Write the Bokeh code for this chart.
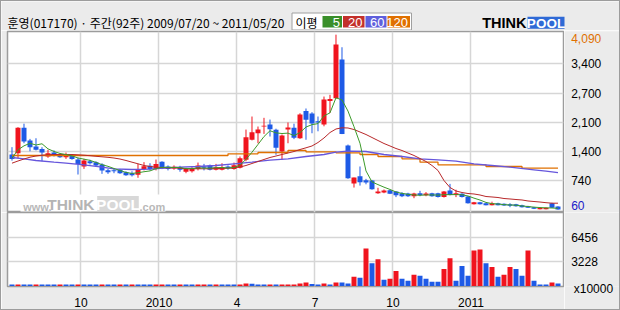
import pandas as pd
from bokeh.plotting import figure
from bokeh.models import Range1d, FixedTicker, ColumnDataSource
from bokeh.core.properties import value
from bokeh.layouts import column, row
from bokeh.embed import file_html
from bokeh.resources import INLINE

# ---------------- data ----------------
title_text = "훈영(017170) · 주간(92주) 2009/07/20 ~ 2011/05/20"
opens = [1330,1360,1945,1655,1515,1460,1285,1375,1330,1270,
         1300,1215,1055,1175,1155,1100,970,970,980,925,
         900,865,995,1070,995,1165,1055,1010,1040,935,
         945,995,1055,1080,980,980,1055,1000,1025,1210,
         1670,1820,1975,2020,1900,1400,1905,1945,1705,2330,
         2275,2095,2020,2560,2625,3518,1540,665,830,740,
         730,440,455,510,480,440,433,370,440,395,
         440,440,350,500,400,425,365,185,230,210,
         165,210,195,185,185,165,140,118,72,72,
         210,135]
highs = [1500,1960,2040,1690,1705,1500,1440,1425,1360,1375,
         1330,1255,1230,1210,1175,1130,1000,1010,1000,945,
         945,1115,1155,1130,1215,1175,1080,1080,1070,1025,
         1040,1145,1115,1100,1115,1130,1080,1145,1285,1905,
         2205,1975,2175,2135,1925,1790,2068,2040,2280,2390,
         2305,2205,2665,2705,4090,3800,1560,800,1055,770,
         745,565,525,520,490,465,450,450,495,465,
         450,450,490,655,520,440,375,240,240,220,
         245,220,205,210,195,175,150,125,110,110,
         220,140]
lows = [1190,1245,1590,1405,1425,1175,1255,1285,1255,1230,
        1210,870,1000,1100,1055,885,885,900,885,840,
        825,795,965,965,965,995,965,980,935,900,
        915,965,965,965,965,965,980,980,1010,1175,
        1655,1590,1805,1745,1325,1210,1590,1685,1690,1670,
        1820,1865,1980,2290,2613,1800,770,570,615,645,
        520,425,440,420,350,350,355,325,370,370,
        360,340,340,390,350,340,200,180,180,160,
        160,160,150,118,130,110,100,75,68,68,
        100,60]
closes = [1230,1945,1630,1500,1440,1375,1360,1330,1270,1315,
          1225,1115,1195,1130,1080,965,925,945,900,855,
          855,1000,1060,995,1115,1010,995,1050,980,995,
          1010,1080,1025,980,1040,1040,1010,1085,1245,1730,
          1845,1905,1995,1915,1485,1770,1950,1715,2250,2130,
          2045,2070,2595,2610,3863,1800,785,800,695,685,
          530,480,505,430,395,370,370,433,395,433,
          370,350,480,400,440,350,210,230,185,165,
          210,165,155,150,140,118,105,80,105,105,
          105,62]
volumes = [200,200,200,200,200,200,200,200,200,200,
           200,200,200,200,200,200,200,200,200,200,
           200,200,200,200,200,200,200,200,200,200,
           200,200,200,200,200,200,200,200,200,320,
           300,200,200,200,200,200,200,200,320,450,
           280,194,323,194,452,452,323,1226,1097,4970,
           3034,3550,839,968,2000,968,710,1485,1355,968,
           581,581,2259,3679,710,2646,1355,4712,4841,3034,
           2517,1226,1485,2517,2259,1355,4712,710,194,194,
           452,323]
vol_up = [0,1,0,0,1,0,0,0,1,0,
          0,1,0,0,0,1,0,0,1,0,
          1,0,0,0,1,1,0,0,1,0,
          0,1,1,0,1,0,0,0,1,1,
          0,0,0,1,0,1,1,1,1,1,
          0,0,1,0,1,0,0,1,0,1,
          0,1,0,1,1,0,0,1,0,0,
          0,0,1,1,0,0,0,1,1,0,
          1,0,1,1,0,0,1,0,0,0,
          1,0]
ma5_head = [1245, 1440, 1530, 1590]
ma20 = [1131,1181,1227,1269,1296,1315,1326,1331,1331,1331,
        1331,1324,1315,1303,1289,1278,1266,1250,1227,1193,
        1154,1117,1078,1055,1039,1032,1025,1025,1013,1002,
        1002,1002,1002,1002,1009,1009,1016,1025,1043,1078,
        1124,1170,1216,1262,1296,1331,1365,1400,1446,1485,
        1527,1607,1711,1837,1918,1946,1941,1906,1849,1791,
        1722,1653,1584,1527,1469,1423,1365,1308,1239,1170,
        1078,963,732,571,491,456,433,422,399,364,
        353,341,318,307,295,284,261,249,237,222,
        210,210]
ma60_idx = [0,2,4,7,9,12,15,17,20,23,26,28,31,34,37,40,43,46,49,52,
            54,56,59,62,65,68,71,74,77,80,83,87,89,91]
ma60 = [1262,1232,1193,1154,1131,1094,1039,1002,986,993,1025,1039,1055,1078,1117,1154,1200,1232,1285,1331,
        1384,1407,1400,1331,1285,1232,1209,1177,1117,1078,1039,979,947,916]
ma120_idx = [0,36,41,46,49,54,58,61,65,68,71,79,85,91]
ma120 = [1308,1347,1377,1423,1393,1370,1331,1285,1232,1154,1094,1055,1016,1016]

x_tick_pos = [11.5, 24.5, 37.5, 50.5, 63.5, 76.5]
x_tick_labels = ["10", "2010", "4", "7", "10", "2011"]
price_min, price_max = 60, 4090
price_min_label, price_max_label = "60", "4,090"
price_tick_labels = ["740", "1,400", "2,100", "2,700", "3,400"]
vol_ticks = [3228, 6456]
vol_tick_labels = ["3228", "6456"]
vol_unit = "x10000"
ma_names = ["5", "20", "60", "120"]
legend_title = "이평"

# ---------------- styling ----------------
UP, DOWN = "#f0141e", "#1e5ae6"
MA_COLORS = ["#3c9a2a", "#b8282a", "#6656dc", "#e07000"]
LEG_COLORS = ["#3a8f2a", "#c3302b", "#5f5fdc", "#e07000"]
BG = "#ebebeb"
GRID = "#d6d6d6"
BORDER = "#9c9c9c"
NUM_FONT = "Liberation Sans"
KR_FONT = "Noto Sans CJK KR"

n = len(closes)
idx = list(range(n))
body_top = [max(o, c) for o, c in zip(opens, closes)]
body_bot = [min(o, c) for o, c in zip(opens, closes)]
ccol = [UP if c >= o else DOWN for o, c in zip(opens, closes)]
vcol = [UP if u else DOWN for u in vol_up]
ma5 = pd.Series(closes, dtype=float).rolling(5).mean().to_numpy()
ma5[:4] = ma5_head

src = ColumnDataSource(dict(x=idx, o=opens, h=highs, l=lows, c=closes,
                            top=body_top, bot=body_bot, col=ccol,
                            vol=volumes, vcol=vcol, ma5=ma5, ma20=ma20))

grid_step = (price_max - price_min) / 6
price_grid = [price_min + grid_step * k for k in range(1, 6)]

# layout geometry (pixels); the root has a 1px border so content starts at (1, 1)
FRAME_L, FRAME_R = 7, 563
PRICE_T, PRICE_B = 31, 212
xr = Range1d(-0.75, 91.917)
yr_price = Range1d(-4.2, 4162.4)
yr_vol = Range1d(-65, 9747)


def text(fig, xs, ys, texts, size, color="black", font=NUM_FONT, align="left",
         baseline="middle", style="normal", y_offset=0):
    fig.text(x=xs, y=ys, text=texts, text_font=value(font), text_font_size=value(f"{size}px"),
             text_color=color, text_align=align, text_baseline=baseline,
             text_font_style=style, y_offset=y_offset)


def bare(width, height, x_range, y_range, **kw):
    f = figure(width=width, height=height, x_range=x_range, y_range=y_range,
               output_backend="svg", toolbar_location=None, title=None,
               x_axis_location=None, y_axis_location=None,
               background_fill_color=BG, border_fill_color=BG, outline_line_color=None, **kw)
    f.grid.visible = False
    return f


# ---------------- header strip (pixel coordinates) ----------------
H = bare(618, 29, Range1d(1, 619), Range1d(30, 1),
         min_border_left=0, min_border_right=0, min_border_top=0, min_border_bottom=0)
text(H, [7], [21.5], [title_text], 12, font=KR_FONT)
H.quad(left=[291.5], right=[411], top=[12.5], bottom=[29.5], fill_color="white",
       line_color="#a0a0a0", line_width=1)
text(H, [295], [21.5], [legend_title], 12, font=KR_FONT)
leg_l = [322, 342.5, 365, 387]
leg_r = [341.5, 364, 386, 409.5]
H.quad(left=leg_l, right=leg_r, top=[15.5] * 4, bottom=[27] * 4, fill_color=LEG_COLORS,
       line_color=None)
text(H, [r - 2 for r in leg_r], [21.5] * 4, ma_names, 13, color="white", align="right")
text(H, [481.7], [22.6], ["THINK"], 14.5, style="bold")
H.quad(left=[527], right=[564], top=[16.3], bottom=[28.3], fill_color="#2f6ad6", line_color=None)
text(H, [545.5], [22.6], ["POOL"], 13.5, color="white", style="bold", align="center")

# ---------------- price panel ----------------
P = figure(width=563, height=182, x_range=xr, y_range=yr_price,
           output_backend="svg", toolbar_location=None, title=None,
           x_axis_location=None, y_axis_location=None,
           min_border_left=FRAME_L - 1, min_border_right=1, min_border_top=1, min_border_bottom=0,
           background_fill_color="white", border_fill_color=BG,
           outline_line_color=BORDER, outline_line_width=1.5)
P.xgrid.ticker = FixedTicker(ticks=x_tick_pos)
P.ygrid.ticker = FixedTicker(ticks=price_grid)
P.grid.grid_line_color = GRID
P.grid.grid_line_width = 1.5


def px_x(px):
    return xr.start + (px - FRAME_L) * (xr.end - xr.start) / (FRAME_R - FRAME_L)


def px_y(py):
    return yr_price.end - (py - PRICE_T) * (yr_price.end - yr_price.start) / (PRICE_B - PRICE_T)


# watermark (drawn under the data)
P.quad(left=[px_x(20)], right=[px_x(165)], top=[px_y(194)], bottom=[px_y(211)],
       fill_color="white", line_color=None)
text(P, [px_x(22.7)], [px_y(206.2)], ["www."], 11, color="#b8b8b8", style="bold")
text(P, [px_x(46.7)], [px_y(203.6)], ["THINK"], 15.5, color="#b4b4b4", style="bold")
P.quad(left=[px_x(96.7)], right=[px_x(138.3)], top=[px_y(195.5)], bottom=[px_y(210.5)],
       fill_color="#d8d8d8", line_color=None)
text(P, [px_x(117.5)], [px_y(203.6)], ["POOL"], 15.5, color="white", style="bold", align="center")
text(P, [px_x(139)], [px_y(206.2)], [".com"], 11, color="#b8b8b8", style="bold")

P.segment(x0="x", y0="h", x1="x", y1="l", source=src, line_color="col", line_width=1)
P.vbar(x="x", width=5 / 6, top="top", bottom="bot", source=src, fill_color="col", line_color=None)
P.step(ma120_idx, ma120, mode="after", line_color=MA_COLORS[3], line_width=1.3)
P.line(ma60_idx, ma60, line_color=MA_COLORS[2], line_width=1.3)
P.line("x", "ma20", source=src, line_color=MA_COLORS[1], line_width=1)
P.line("x", "ma5", source=src, line_color=MA_COLORS[0], line_width=1)

# price labels strip (same price scale; its frame lines up with the price frame)
PL = bare(55, 182, Range1d(0, 55), yr_price,
          min_border_left=0, min_border_right=0, min_border_top=1, min_border_bottom=0)
text(PL, [6.7] * 5, price_grid, price_tick_labels, 12)
text(PL, [6.7], [price_max], [price_max_label], 12, color="#e07000", y_offset=4)
text(PL, [6.7], [price_min], [price_min_label], 12, color="#1a1ac8", y_offset=-4.5)

# ---------------- volume panel ----------------
V = figure(width=563, height=97, x_range=xr, y_range=yr_vol,
           output_backend="svg", toolbar_location=None, title=None,
           x_axis_location="below", y_axis_location=None,
           min_border_left=FRAME_L - 1, min_border_right=1, min_border_top=0, min_border_bottom=21,
           background_fill_color="white", border_fill_color=BG,
           outline_line_color=BORDER, outline_line_width=1.5)
V.xaxis.ticker = FixedTicker(ticks=x_tick_pos)
V.xaxis.major_label_overrides = {v: t for v, t in zip(x_tick_pos, x_tick_labels)}
V.ygrid.ticker = FixedTicker(ticks=vol_ticks)
V.grid.grid_line_color = GRID
V.grid.grid_line_width = 1.5
V.xaxis.axis_line_color = None
V.xaxis.major_tick_line_color = None
V.xaxis.minor_tick_line_color = None
V.xaxis.major_label_text_font = NUM_FONT
V.xaxis.major_label_text_font_size = "12px"
V.xaxis.major_label_text_color = "black"
V.xaxis.major_label_standoff = 5

V.vbar(x="x", width=5 / 6, top="vol", bottom=0, source=src, fill_color="vcol", line_color=None)

# volume labels strip: tick labels as text, unit as a single-tick axis label
VL = figure(width=55, height=97, x_range=Range1d(0, 55), y_range=yr_vol,
            output_backend="svg", toolbar_location=None, title=None,
            x_axis_location="below", y_axis_location=None,
            min_border_left=0, min_border_right=0, min_border_top=0, min_border_bottom=21,
            background_fill_color=BG, border_fill_color=BG, outline_line_color=None)
VL.grid.visible = False
text(VL, [6.7] * 2, vol_ticks, vol_tick_labels, 12)
unit_x = 28.9
VL.xaxis.ticker = FixedTicker(ticks=[unit_x])
VL.xaxis.major_label_overrides = {unit_x: vol_unit}
VL.xaxis.axis_line_color = None
VL.xaxis.major_tick_line_color = None
VL.xaxis.minor_tick_line_color = None
VL.xaxis.major_label_text_font = NUM_FONT
VL.xaxis.major_label_text_font_size = "12px"
VL.xaxis.major_label_text_color = "black"
VL.xaxis.major_label_standoff = -11

layout = column(H, row(P, PL, spacing=0), row(V, VL, spacing=0), spacing=0,
                styles={"border": f"1px solid {BORDER}", "box-sizing": "content-box"})
open("out.html", "w").write(file_html(layout, INLINE))
